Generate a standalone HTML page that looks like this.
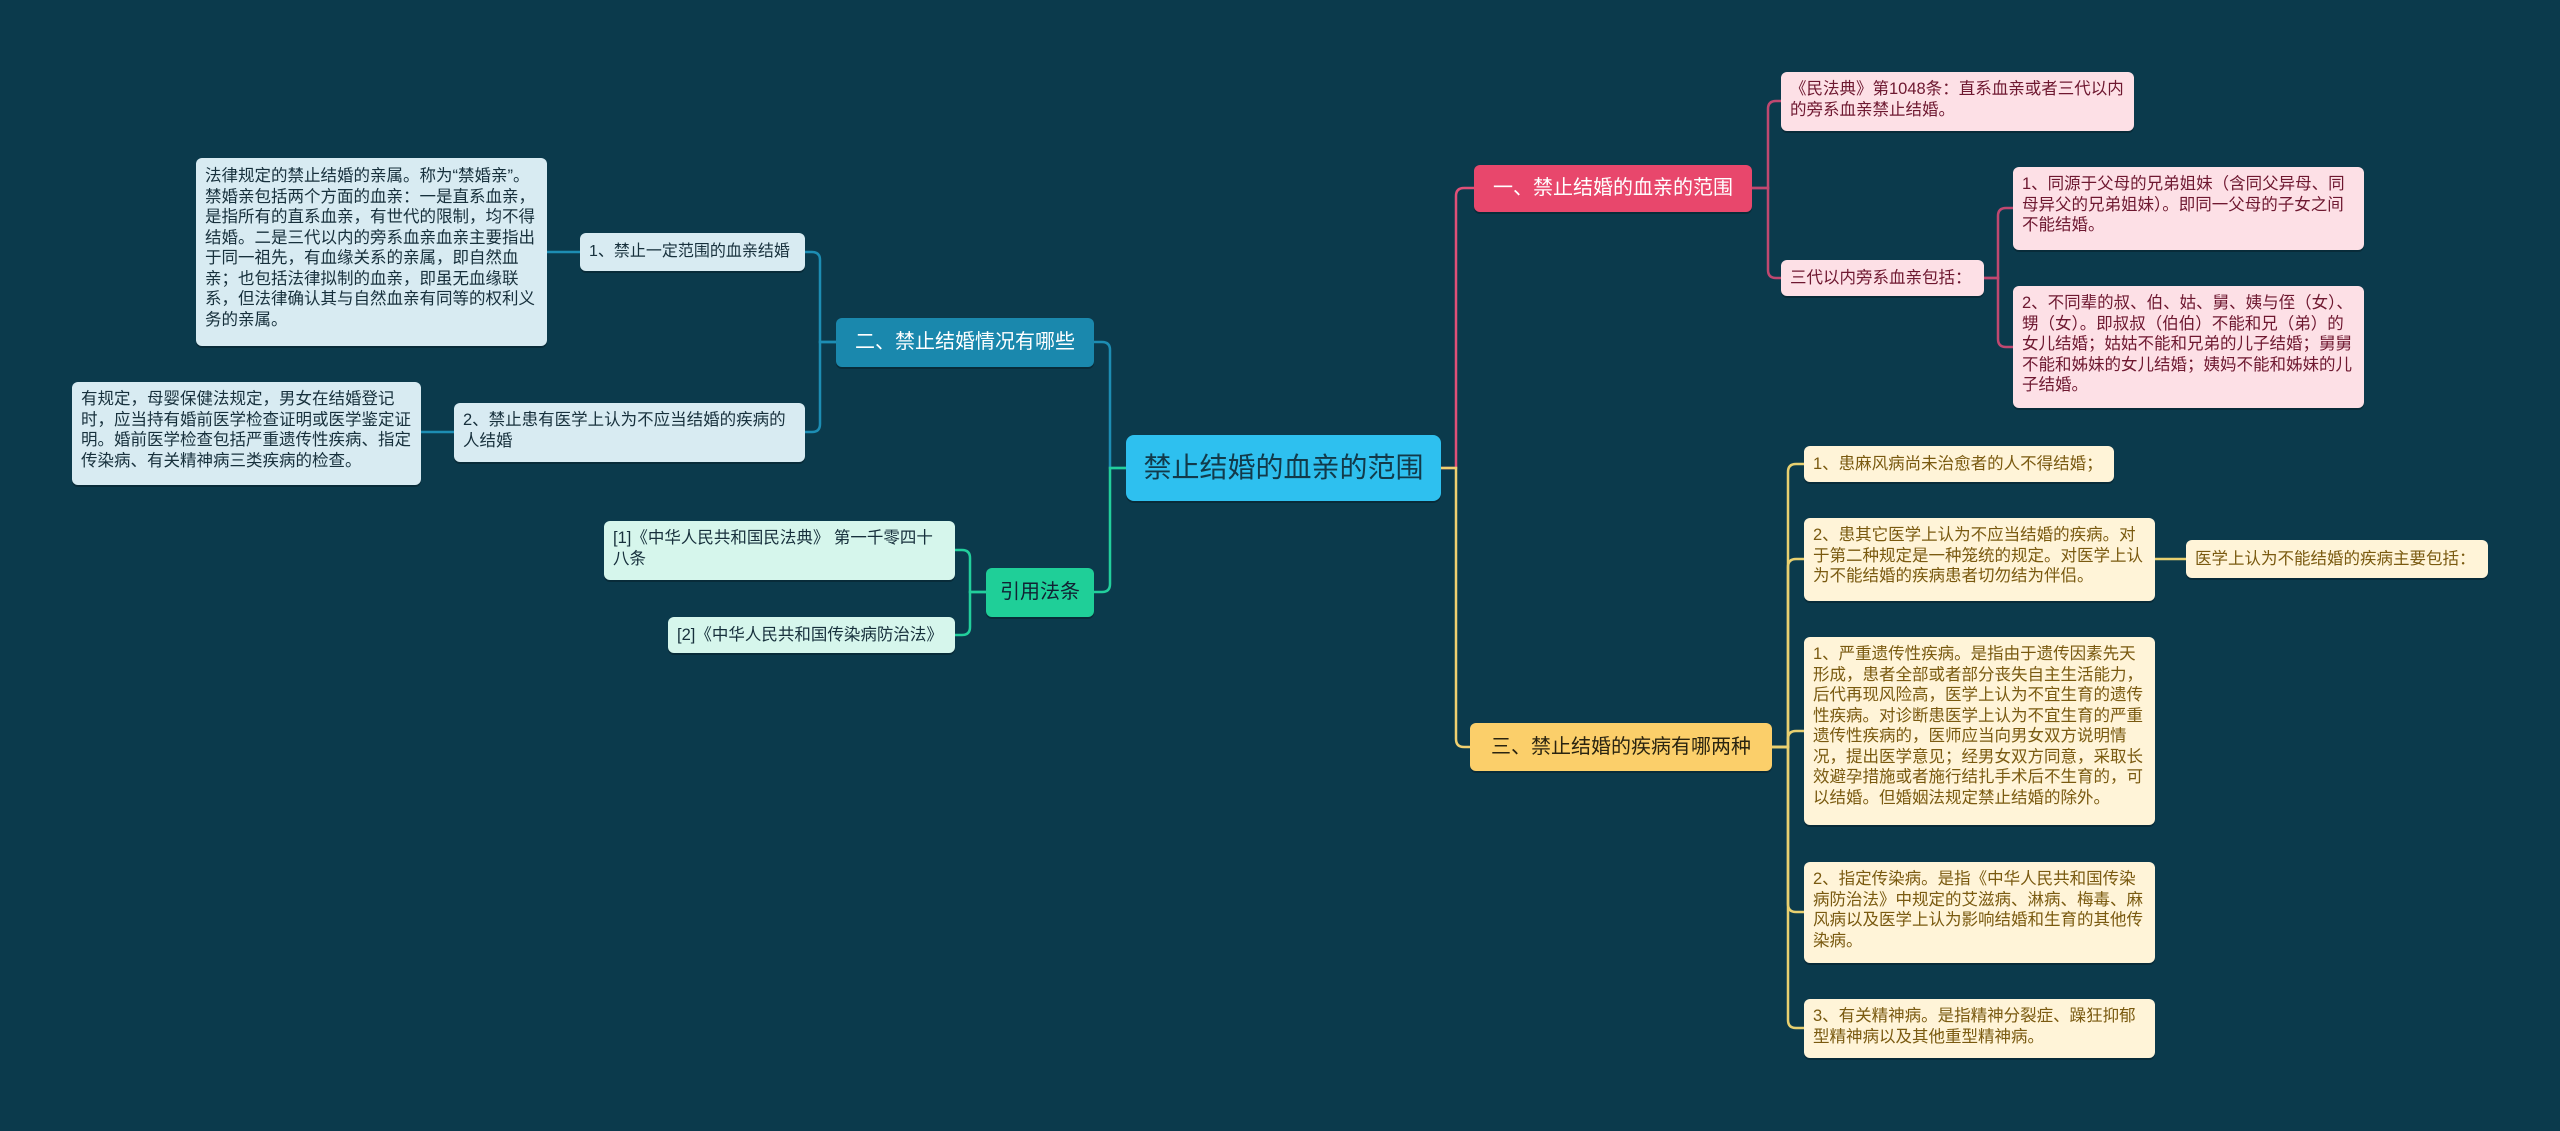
<!DOCTYPE html>
<html><head><meta charset="utf-8"><style>
body{margin:0;width:2560px;height:1131px;background:#0b3a4c;position:relative;overflow:hidden;font-family:"Liberation Sans","Noto Sans CJK SC",sans-serif}
.n{position:absolute;box-sizing:border-box;border-radius:6px;font-size:16.5px;line-height:20.5px;padding:7px 7px 7px 9px;box-shadow:0 2px 0 rgba(0,0,0,0.25);word-break:break-all}
.c{background:#2ec0ef;color:#123a4a;font-size:28px;line-height:66px;text-align:center;padding:0;border-radius:8px}
.b{font-size:20px;display:flex;align-items:center;justify-content:center;padding:0;border-radius:6px;white-space:nowrap}
.pk{background:#fde0e6;color:#6e1830}
.yl{background:#fff4d8;color:#7a5a10}
.bl{background:#d8ebf2;color:#17303c}
.gr{background:#d6f6ec;color:#17303c}
svg{position:absolute;left:0;top:0}
.v{display:flex;align-items:center;white-space:nowrap}
</style></head><body>
<svg width="2560" height="1131" fill="none" stroke-width="2.5">
<path d="M1441 468 H1456 V196 Q1456 188 1464 188 H1474" stroke="#e05078"/>
<path d="M1441 468 H1456 V739 Q1456 747 1464 747 H1470" stroke="#f0d070"/>
<path d="M1126 468 H1110 V350 Q1110 342 1102 342 H1094" stroke="#1d8db3"/>
<path d="M1126 468 H1110 V584 Q1110 592 1102 592 H1094" stroke="#22cf9c"/>
<path d="M1752 188 H1768 V109 Q1768 101 1776 101 H1781" stroke="#c04870"/>
<path d="M1752 188 H1768 V270 Q1768 278 1776 278 H1781" stroke="#c04870"/>
<path d="M1984 278 H1998 V216 Q1998 208 2006 208 H2013" stroke="#c04870"/>
<path d="M1984 278 H1998 V339 Q1998 347 2006 347 H2013" stroke="#c04870"/>
<path d="M1772 747 H1788 V472 Q1788 464 1796 464 H1804" stroke="#e8d070"/>
<path d="M1772 747 H1788 V567 Q1788 559 1796 559 H1804" stroke="#e8d070"/>
<path d="M1772 747 H1788 V739 Q1788 731 1796 731 H1804" stroke="#e8d070"/>
<path d="M1772 747 H1788 V904 Q1788 912 1796 912 H1804" stroke="#e8d070"/>
<path d="M1772 747 H1788 V1020 Q1788 1028 1796 1028 H1804" stroke="#e8d070"/>
<path d="M2155 559 H2186" stroke="#e8d070"/>
<path d="M836 342 H820 V260 Q820 252 812 252 H805" stroke="#1d8db3"/>
<path d="M836 342 H820 V424 Q820 432 812 432 H805" stroke="#1d8db3"/>
<path d="M580 252 H547" stroke="#1d8db3"/>
<path d="M454 432 H421" stroke="#1d8db3"/>
<path d="M986 592 H970 V558 Q970 550 962 550 H955" stroke="#22cf9c"/>
<path d="M986 592 H970 V627 Q970 635 962 635 H955" stroke="#22cf9c"/>
</svg>

<div class="n c" style="left:1126px;top:435px;width:315px;height:66px">禁止结婚的血亲的范围</div>

<div class="n b" style="left:1474px;top:165px;width:278px;height:47px;background:#e8476c;color:#fff">一、禁止结婚的血亲的范围</div>
<div class="n pk" style="left:1781px;top:72px;width:353px;height:59px">《民法典》第1048条：直系血亲或者三代以内的旁系血亲禁止结婚。</div>
<div class="n pk v" style="left:1781px;top:260px;width:203px;height:36px">三代以内旁系血亲包括：</div>
<div class="n pk" style="left:2013px;top:167px;width:351px;height:83px">1、同源于父母的兄弟姐妹（含同父异母、同母异父的兄弟姐妹）。即同一父母的子女之间不能结婚。</div>
<div class="n pk" style="left:2013px;top:286px;width:351px;height:122px">2、不同辈的叔、伯、姑、舅、姨与侄（女）、甥（女）。即叔叔（伯伯）不能和兄（弟）的女儿结婚；姑姑不能和兄弟的儿子结婚；舅舅不能和姊妹的女儿结婚；姨妈不能和姊妹的儿子结婚。</div>

<div class="n b" style="left:1470px;top:723px;width:302px;height:48px;background:#fbcf6a;color:#2a2410">三、禁止结婚的疾病有哪两种</div>
<div class="n yl v" style="left:1804px;top:446px;width:310px;height:36px">1、患麻风病尚未治愈者的人不得结婚；</div>
<div class="n yl" style="left:1804px;top:518px;width:351px;height:83px">2、患其它医学上认为不应当结婚的疾病。对于第二种规定是一种笼统的规定。对医学上认为不能结婚的疾病患者切勿结为伴侣。</div>
<div class="n yl v" style="left:2186px;top:540px;width:302px;height:38px">医学上认为不能结婚的疾病主要包括：</div>
<div class="n yl" style="left:1804px;top:637px;width:351px;height:188px">1、严重遗传性疾病。是指由于遗传因素先天形成，患者全部或者部分丧失自主生活能力，后代再现风险高，医学上认为不宜生育的遗传性疾病。对诊断患医学上认为不宜生育的严重遗传性疾病的，医师应当向男女双方说明情况，提出医学意见；经男女双方同意，采取长效避孕措施或者施行结扎手术后不生育的，可以结婚。但婚姻法规定禁止结婚的除外。</div>
<div class="n yl" style="left:1804px;top:862px;width:351px;height:101px">2、指定传染病。是指《中华人民共和国传染病防治法》中规定的艾滋病、淋病、梅毒、麻风病以及医学上认为影响结婚和生育的其他传染病。</div>
<div class="n yl" style="left:1804px;top:999px;width:351px;height:59px">3、有关精神病。是指精神分裂症、躁狂抑郁型精神病以及其他重型精神病。</div>

<div class="n b" style="left:836px;top:318px;width:258px;height:49px;background:#1a88ad;color:#fff">二、禁止结婚情况有哪些</div>
<div class="n bl v" style="left:580px;top:233px;width:225px;height:38px;font-size:16px">1、禁止一定范围的血亲结婚</div>
<div class="n bl" style="left:196px;top:158px;width:351px;height:188px;padding-top:8px">法律规定的禁止结婚的亲属。称为“禁婚亲”。禁婚亲包括两个方面的血亲：一是直系血亲，是指所有的直系血亲，有世代的限制，均不得结婚。二是三代以内的旁系血亲血亲主要指出于同一祖先，有血缘关系的亲属，即自然血亲；也包括法律拟制的血亲，即虽无血缘联系，但法律确认其与自然血亲有同等的权利义务的亲属。</div>
<div class="n bl" style="left:454px;top:403px;width:351px;height:59px">2、禁止患有医学上认为不应当结婚的疾病的人结婚</div>
<div class="n bl" style="left:72px;top:382px;width:349px;height:103px">有规定，母婴保健法规定，男女在结婚登记时，应当持有婚前医学检查证明或医学鉴定证明。婚前医学检查包括严重遗传性疾病、指定传染病、有关精神病三类疾病的检查。</div>

<div class="n b" style="left:986px;top:568px;width:108px;height:49px;background:#1fcf98;color:#123">引用法条</div>
<div class="n gr" style="left:604px;top:521px;width:351px;height:59px">[1]《中华人民共和国民法典》 第一千零四十八条</div>
<div class="n gr v" style="left:668px;top:617px;width:287px;height:36px">[2]《中华人民共和国传染病防治法》</div>
</body></html>
